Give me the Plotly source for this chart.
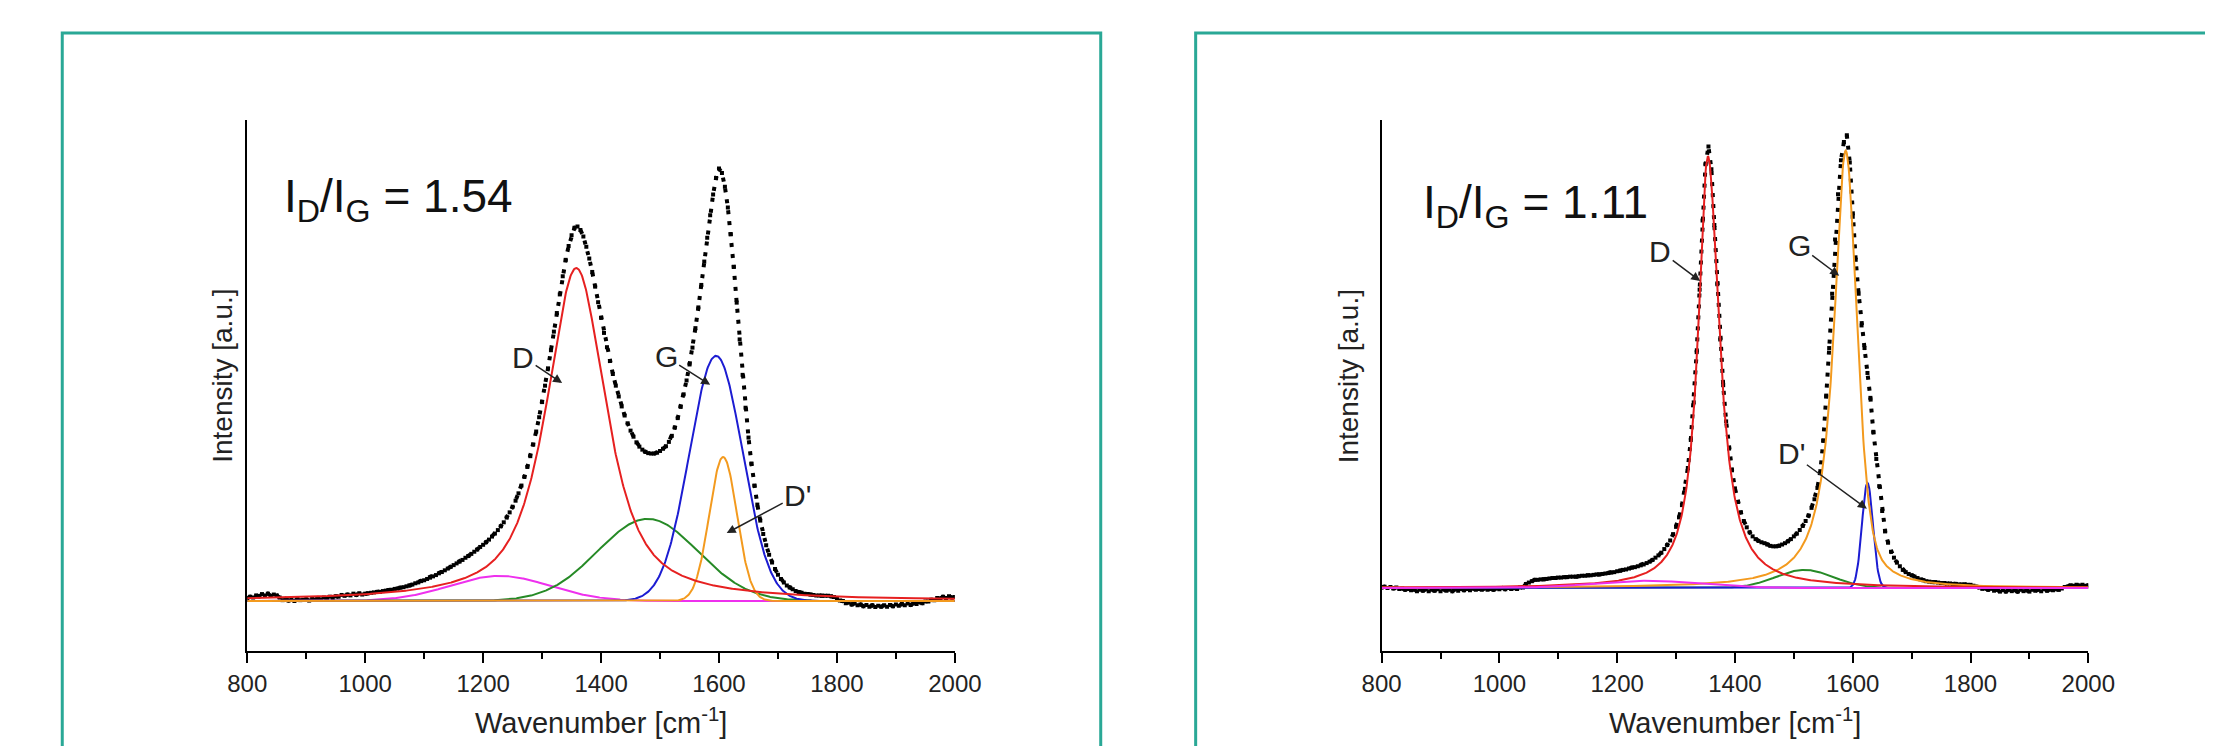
import numpy as np
import plotly.graph_objects as go

W, H = 2213, 746

wavenumber = list(range(800, 2001, 5))

meas_left = [
    7, 10, 8, 13, 11, 16, 13, 17, 12, 15,
    13, 8, 2, 5, 1, 4, 0, 5, 2, 3,
    4, 1, 6, 3, 7, 4, 8, 6, 10, 7,
    11, 10, 14, 12, 15, 13, 17, 14, 18, 15,
    17, 18, 19, 20, 21, 21, 23, 24, 25, 26,
    28, 29, 31, 32, 34, 36, 38, 41, 43, 46,
    48, 51, 54, 57, 60, 64, 67, 71, 75, 79,
    83, 87, 91, 95, 100, 104, 109, 114, 119, 125,
    130, 136, 142, 149, 156, 164, 173, 182, 193, 205,
    218, 232, 249, 267, 287, 310, 335, 362, 392, 425,
    460, 498, 538, 580, 623, 666, 709, 751, 789, 821,
    846, 863, 866, 858, 843, 819, 792, 761, 727, 691,
    655, 620, 587, 555, 525, 498, 473, 450, 429, 411,
    394, 380, 367, 357, 350, 345, 342, 341, 341, 343,
    347, 352, 358, 368, 382, 401, 423, 449, 478, 510,
    547, 586, 631, 679, 731, 785, 840, 892, 940, 978,
    1000, 990, 958, 910, 848, 773, 690, 605, 523, 447,
    378, 318, 267, 223, 186, 155, 129, 107, 89, 74,
    61, 51, 43, 36, 31, 27, 23, 21, 19, 17,
    16, 15, 14, 13, 13, 12, 12, 12, 11, 9,
    5, 1, 0, -5, -4, -8, -6, -10, -8, -12,
    -9, -13, -10, -14, -11, -13, -10, -13, -9, -12,
    -8, -11, -7, -10, -6, -9, -5, -7, -3, -5,
    -1, -1, 3, 2, 7, 6, 10, 7, 11, 8, 9,
]

meas_right = [
    1, 3, 0, 2, -1, 1, -2, -1, -4, -2,
    -5, -3, -7, -4, -6, -3, -7, -4, -6, -3,
    -7, -3, -6, -4, -7, -3, -6, -2, -5, -2,
    -5, -1, -4, -2, -4, -1, -4, -2, -4, -1,
    -3, 0, -3, 0, -2, 0, -2, 1, 1, 9,
    12, 15, 18, 18, 19, 19, 20, 21, 22, 22,
    23, 23, 24, 24, 25, 25, 25, 26, 27, 27,
    28, 28, 29, 30, 30, 31, 32, 33, 34, 35,
    37, 38, 40, 41, 43, 45, 46, 48, 50, 52,
    55, 58, 62, 67, 72, 78, 86, 95, 105, 119,
    135, 156, 183, 219, 265, 327, 410, 521, 659, 812,
    936, 975, 925, 802, 671, 549, 448, 368, 308, 260,
    220, 190, 167, 148, 134, 123, 114, 108, 104, 101,
    99, 96, 93, 92, 92, 93, 96, 99, 103, 108,
    114, 120, 128, 137, 148, 160, 177, 196, 221, 258,
    325, 425, 530, 650, 770, 870, 945, 985, 1000, 940,
    820, 725, 650, 580, 530, 475, 420, 345, 285, 225,
    170, 125, 100, 80, 67, 56, 48, 40, 35, 31,
    28, 25, 22, 19, 17, 15, 14, 13, 13, 12,
    11, 11, 10, 10, 9, 9, 8, 8, 8, 7,
    7, 5, 3, 1, -2, -1, -4, -2, -6, -4,
    -8, -5, -8, -4, -7, -5, -8, -4, -7, -5,
    -8, -4, -6, -4, -7, -3, -6, -4, -5, -3,
    -4, -1, 2, 3, 6, 5, 7, 5, 7, 5, 6,
]

# ---------------- fitted components (peak parameters) ----------------
# left panel: D, G, D', ~1480 band, ~1230 band
L_center = [1358, 1595, 1607, 1479, 1228]
L_fwhm_low = [120, 106, 55, 200, 200]
L_fwhm_high = [120, 106, 55, 200, 200]
L_height = [770, 567, 333, 190, 58]
L_lorentz_low = [0.75, 0.0, 0.0, 0.0, 0.0]
L_lorentz_high = [0.75, 0.0, 0.0, 0.0, 0.0]
L_color = ["#e62020", "#1c1cd2", "#f39a1e", "#268a26", "#ee30ee"]
L_order = [4, 3, 1, 2, 0]

# right panel: D, G, D', ~1518 band, ~1250 band
R_center = [1354, 1588, 1625, 1518, 1250]
R_fwhm_low = [40, 48, 22, 115, 210]
R_fwhm_high = [47, 46, 22, 115, 210]
R_height = [954, 966, 232, 40, 16]
R_lorentz_low = [1.0, 1.0, 0.0, 0.0, 0.0]
R_lorentz_high = [1.0, 0.5, 0.0, 0.0, 0.0]
R_color = ["#e62020", "#f39a1e", "#1c1cd2", "#268a26", "#ee30ee"]
R_order = [3, 2, 1, 0, 4]

ratios = ["1.54", "1.11"]

# peak labels: text, arrow head (data coords), text offset from head (px)
lab_text = ["D", "G", "D'"]
lab_head_left = [(1334, 504), (1585, 500), (1613, 157)]
lab_off_left = [(-39, -26), (-44, -28), (71, -38)]
lab_head_right = [(1341, 678), (1577, 690), (1624, 175)]
lab_off_right = [(-40, -30), (-40, -30), (-75, -55)]

x_fit = np.arange(800, 2000.5, 1.0)


def split_pseudo_voigt(x, c, w_lo, w_hi, h, eta_lo, eta_hi):
    w = np.where(x < c, w_lo, w_hi)
    eta = np.where(x < c, eta_lo, eta_hi)
    d = (x - c) / w
    return h * (eta / (1 + 4 * d ** 2) + (1 - eta) * np.exp(-4 * np.log(2) * d ** 2))


FONT = "Liberation Sans, Arial, sans-serif"
fig = go.Figure()


def add_panel(xa, ya, meas, centers, wlo, whi, heights, elo, ehi, colors, order):
    fig.add_trace(go.Scatter(x=wavenumber, y=meas, mode="lines+markers", xaxis=xa, yaxis=ya,
                             line=dict(color="black", width=4, dash="4px,7px"),
                             marker=dict(size=4, color="black", symbol="square"),
                             showlegend=False, hoverinfo="skip"))
    for i in order:
        y = split_pseudo_voigt(x_fit, centers[i], wlo[i], whi[i], heights[i], elo[i], ehi[i])
        fig.add_trace(go.Scatter(x=x_fit, y=y, mode="lines", xaxis=xa, yaxis=ya,
                                 line=dict(color=colors[i], width=2), showlegend=False))


add_panel("x", "y", meas_left, L_center, L_fwhm_low, L_fwhm_high, L_height, L_lorentz_low,
          L_lorentz_high, L_color, L_order)
add_panel("x2", "y2", meas_right, R_center, R_fwhm_low, R_fwhm_high, R_height, R_lorentz_low,
          R_lorentz_high, R_color, R_order)

ydom = [(H - 643) / H, (H - 112) / H]
xcommon = dict(range=[800, 2000], showline=True, linecolor="black", linewidth=2, ticks="outside",
               ticklen=10, tickwidth=2, tickcolor="black", tick0=800, dtick=200, showgrid=False,
               zeroline=False, tickfont=dict(family=FONT, size=24, color="#222"),
               minor=dict(dtick=100, ticks="outside", ticklen=6, tickwidth=2, tickcolor="black"))
ycommon = dict(showline=True, linecolor="black", linewidth=2, ticks="", showticklabels=False,
               showgrid=False, zeroline=False, domain=ydom)

fig.update_layout(
    width=W, height=H, margin=dict(l=0, r=0, t=0, b=0),
    font=dict(family=FONT, size=24, color="#222"),
    paper_bgcolor="white", plot_bgcolor="rgba(0,0,0,0)",
    xaxis=dict(domain=[224 / W, 947 / W], anchor="y", **xcommon),
    yaxis=dict(range=[-115.6, 1112.4], anchor="x", **ycommon),
    xaxis2=dict(domain=[1383 / W, 2105 / W], anchor="y2", **xcommon),
    yaxis2=dict(range=[-139.2, 1033.8], anchor="x2", **ycommon),
)

teal = "#2aa896"
fig.add_shape(type="rect", xref="paper", yref="paper", x0=35 / W, x1=1096 / W, y0=-0.1, y1=1 - 25 / H,
              line=dict(color=teal, width=3), fillcolor="rgba(0,0,0,0)", layer="below")
fig.add_shape(type="rect", xref="paper", yref="paper", x0=1193 / W, x1=1.2, y0=-0.1, y1=1 - 25 / H,
              line=dict(color=teal, width=3), fillcolor="rgba(0,0,0,0)", layer="below")

ann = []
for xc in [585.5, 1744]:
    ann.append(dict(text="Wavenumber [cm<sup>-1</sup>]", x=xc / W, y=1 - 713 / H, xref="paper", yref="paper",
                    showarrow=False, xanchor="center", yanchor="middle",
                    font=dict(family=FONT, size=29, color="#222")))
for xc in [198, 1349]:
    ann.append(dict(text="Intensity [a.u.]", x=xc / W, y=1 - 368 / H, xref="paper", yref="paper",
                    showarrow=False, textangle=-90, xanchor="center", yanchor="middle",
                    font=dict(family=FONT, size=28, color="#222")))
for xl, yc, r in [(260, 192, ratios[0]), (1423, 198, ratios[1])]:
    ann.append(dict(text=f"I<sub>D</sub>/I<sub>G</sub> = {r}", x=xl / W, y=1 - yc / H, xref="paper",
                    yref="paper", showarrow=False, xanchor="left", yanchor="middle",
                    font=dict(family=FONT, size=46, color="#111")))

for xa, ya, heads, offs in [("x", "y", lab_head_left, lab_off_left), ("x2", "y2", lab_head_right, lab_off_right)]:
    for t, (hx, hy), (ox, oy) in zip(lab_text, heads, offs):
        ann.append(dict(text=t, x=hx, y=hy, xref=xa, yref=ya, ax=ox, ay=oy, showarrow=True,
                        arrowhead=2, arrowsize=1.2, arrowwidth=1.5, arrowcolor="#222",
                        font=dict(family=FONT, size=30, color="#222")))
fig.update_layout(annotations=ann)

fig.write_html("out.html")
